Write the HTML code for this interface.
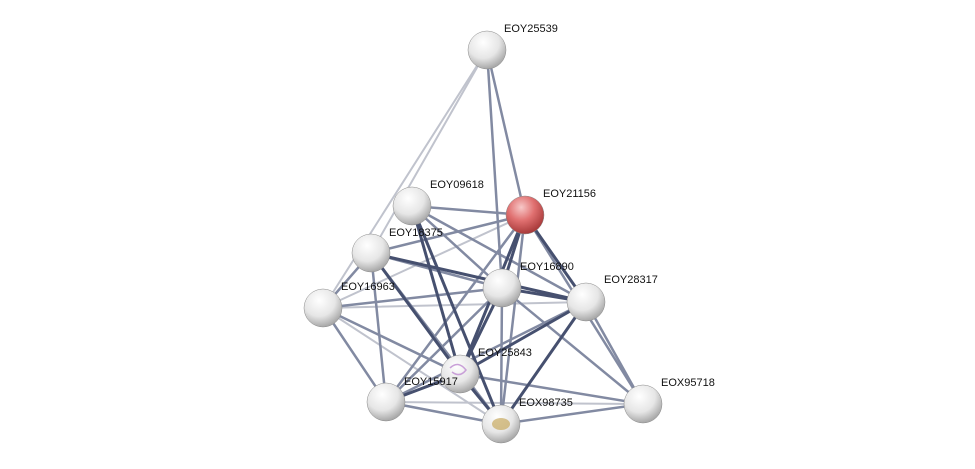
<!DOCTYPE html>
<html><head><meta charset="utf-8"><style>
html,body{margin:0;padding:0;background:#fff;width:975px;height:469px;overflow:hidden}
text{font-family:"Liberation Sans",sans-serif;font-size:11px;fill:#111}
</style></head><body>
<svg width="975" height="469" xmlns="http://www.w3.org/2000/svg">
<defs>
<radialGradient id="g" cx="40%" cy="30%" r="70%">
<stop offset="0" stop-color="#ffffff"/><stop offset="0.6" stop-color="#e6e6e6"/><stop offset="1" stop-color="#a8a8a8"/>
</radialGradient>
<radialGradient id="r" cx="40%" cy="30%" r="70%">
<stop offset="0" stop-color="#f7c8c8"/><stop offset="0.5" stop-color="#e07070"/><stop offset="1" stop-color="#a83a3a"/>
</radialGradient>
</defs>
<g stroke-linecap="round">
<!-- light -->
<g stroke="#c0c3cd" stroke-width="2">
<line x1="487" y1="50" x2="323" y2="308"/>
<line x1="487" y1="50" x2="371" y2="253"/>
<line x1="525" y1="215" x2="323" y2="308"/>
<line x1="323" y1="308" x2="586" y2="302"/>
<line x1="386" y1="402" x2="643" y2="404"/>
<line x1="525" y1="215" x2="586" y2="302"/>
<line x1="323" y1="308" x2="501" y2="424"/>
</g>
<!-- medium -->
<g stroke="#828aa2" stroke-width="2.5">
<line x1="487" y1="50" x2="525" y2="215"/>
<line x1="487" y1="50" x2="502" y2="288"/>
<line x1="525" y1="215" x2="412" y2="206"/>
<line x1="525" y1="215" x2="371" y2="253"/>
<line x1="525" y1="215" x2="386" y2="402"/>
<line x1="525" y1="215" x2="501" y2="424"/>
<line x1="525" y1="215" x2="643" y2="404"/>
<line x1="412" y1="206" x2="586" y2="302"/>
<line x1="412" y1="206" x2="502" y2="288"/>
<line x1="371" y1="253" x2="502" y2="288"/>
<line x1="371" y1="253" x2="386" y2="402"/>
<line x1="371" y1="253" x2="323" y2="308"/>
<line x1="323" y1="308" x2="502" y2="288"/>
<line x1="323" y1="308" x2="460" y2="374"/>
<line x1="323" y1="308" x2="386" y2="402"/>
<line x1="502" y1="288" x2="386" y2="402"/>
<line x1="502" y1="288" x2="501" y2="424"/>
<line x1="502" y1="288" x2="643" y2="404"/>
<line x1="586" y1="302" x2="386" y2="402"/>
<line x1="586" y1="302" x2="643" y2="404"/>
<line x1="460" y1="374" x2="643" y2="404"/>
<line x1="386" y1="402" x2="501" y2="424"/>
<line x1="501" y1="424" x2="643" y2="404"/>
<line x1="371" y1="253" x2="501" y2="424"/>
</g>
<!-- dark -->
<g stroke="#46506f" stroke-width="3">
<line x1="525" y1="215" x2="586" y2="302"/>
<line x1="525" y1="215" x2="502" y2="288"/>
<line x1="525" y1="215" x2="460" y2="374"/>
<line x1="412" y1="206" x2="460" y2="374"/>
<line x1="412" y1="206" x2="501" y2="424"/>
<line x1="371" y1="253" x2="586" y2="302"/>
<line x1="371" y1="253" x2="460" y2="374"/>
<line x1="502" y1="288" x2="586" y2="302"/>
<line x1="502" y1="288" x2="460" y2="374"/>
<line x1="586" y1="302" x2="460" y2="374"/>
<line x1="586" y1="302" x2="501" y2="424"/>
<line x1="460" y1="374" x2="501" y2="424"/>
<line x1="460" y1="374" x2="386" y2="402"/>
</g>
</g>
<g stroke="#8a8a8a" stroke-width="0.5">
<circle cx="487" cy="50" r="19" fill="url(#g)"/>
<circle cx="412" cy="206" r="19" fill="url(#g)"/>
<circle cx="371" cy="253" r="19" fill="url(#g)"/>
<circle cx="502" cy="288" r="19" fill="url(#g)"/>
<circle cx="586" cy="302" r="19" fill="url(#g)"/>
<circle cx="323" cy="308" r="19" fill="url(#g)"/>
<circle cx="460" cy="374" r="19" fill="url(#g)"/>
<circle cx="386" cy="402" r="19" fill="url(#g)"/>
<circle cx="501" cy="424" r="19" fill="url(#g)"/>
<circle cx="643" cy="404" r="19" fill="url(#g)"/>
<circle cx="525" cy="215" r="19" fill="url(#r)"/>
</g>
<path d="M450 368 q8 -8 16 2 q-6 8 -14 2" fill="none" stroke="#c9a0d8" stroke-width="1.5"/>
<ellipse cx="501" cy="424" rx="9" ry="6" fill="#c8aa60" opacity="0.7"/>
<text x="504" y="32">EOY25539</text>
<text x="543" y="197">EOY21156</text>
<text x="430" y="188">EOY09618</text>
<text x="389" y="236">EOY18375</text>
<text x="520" y="270">EOY16890</text>
<text x="604" y="283">EOY28317</text>
<text x="341" y="290">EOY16963</text>
<text x="478" y="356">EOY25843</text>
<text x="404" y="385">EOY15917</text>
<text x="519" y="406">EOX98735</text>
<text x="661" y="386">EOX95718</text>
</svg>
</body></html>
